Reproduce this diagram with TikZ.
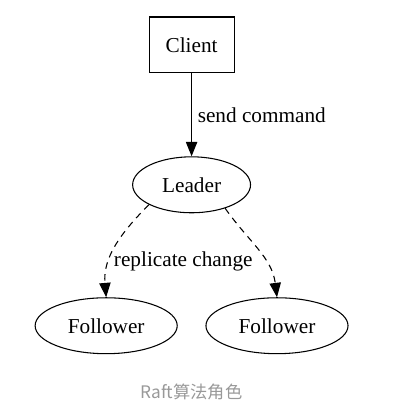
\documentclass[tikz,border=0pt]{standalone}
\usepackage{fontspec}
\setmainfont{Liberation Serif}
\newfontfamily\cjk{Noto Sans CJK SC}
\usepackage{xcolor}
\usetikzlibrary{positioning, shapes.geometric, arrows.meta}
\definecolor{captiongray}{HTML}{999999}

\begin{document}
\begin{tikzpicture}[
    font=\fontsize{16}{19}\selectfont,
    every path/.style={line width=0.8pt},
    arr/.style={-{Triangle[length=3.8mm, width=3mm]}},
    rolebox/.style={draw, rectangle, minimum width=22.5mm, minimum height=14.8mm, inner sep=0pt},
    roleoval/.style={draw, ellipse, minimum height=14.8mm, inner sep=0pt}
  ]
      \useasboundingbox (-5.07,1.19) rectangle (5.62,-9.66);

      \node[rolebox] (client) {Client};
      \node[roleoval, minimum width=31.2mm, below of=client, yshift=-27mm] (leader) {Leader};

      \node[roleoval, minimum width=37.6mm, below of=leader, xshift=-22.6mm, yshift=-27.3mm] (f1) {Follower};
      \node[roleoval, minimum width=37.6mm, below of=leader, xshift=22.6mm, yshift=-27.3mm] (f2) {Follower};


      \draw[arr] (client)--(leader) node[midway, right, inner sep=1.5mm] {send command};


      \draw[arr, dash pattern=on 5pt off 4pt] (leader.-155) to[out=-135, in=95] node[pos=0.66, anchor=west, inner sep=1mm] {replicate change} (f1.north);
      \draw[arr, dash pattern=on 5pt off 4pt] (leader.-35) to[out=-55, in=97] (f2.north);

      \node[below of=client, yshift=-81.8mm, text=captiongray, font=\cjk\fontsize{13}{15}\selectfont] (caption) {Raft算法角色};
    \end{tikzpicture}
\end{document}
